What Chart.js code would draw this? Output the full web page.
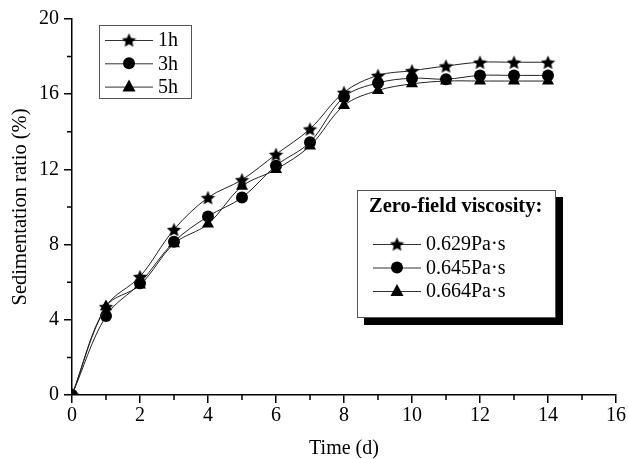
<!DOCTYPE html>
<html>
  <head>
    <title>Sedimentation ratio</title>
    <script src="https://cdn.jsdelivr.net/npm/chart.js"></script>
    <style>
      body {
        margin: 0;
        background: #fff;
      }
      .chart-container {
        width: 628px;
        height: 459px;
      }
    </style>
  </head>
  <body>
    <div class="chart-container">
      <canvas id="graph"></canvas>
    </div>
    <script>
      // time in days
      const days = [0, 1, 2, 3, 4, 5, 6, 7, 8, 9, 10, 11, 12, 13, 14];

      // sedimentation ratio (%) for each settling series
      const ratio1h = [0, 4.7, 6.3, 8.8, 10.5, 11.45, 12.8, 14.15, 16.1, 17.0, 17.25, 17.5, 17.7, 17.7, 17.7];
      const ratio3h = [0, 4.2, 5.95, 8.15, 9.5, 10.5, 12.2, 13.45, 15.85, 16.6, 16.85, 16.8, 17.0, 17.0, 17.0];
      const ratio5h = [0, 4.7, 5.85, 8.05, 9.1, 11.1, 12.0, 13.25, 15.4, 16.2, 16.55, 16.7, 16.7, 16.7, 16.7];

      const seriesNames = ["1h", "3h", "5h"];
      const viscosityNames = ["0.629Pa·s", "0.645Pa·s", "0.664Pa·s"];
      const legendTitle = "Zero-field viscosity:";

      const xTicks = { min: 0, max: 16, major: 2, minor: 1 };
      const yTicks = { min: 0, max: 20, major: 4, minor: 2 };

      const FONT = "'Liberation Serif', 'Times New Roman', serif";

      // filled five-point star, Chart.js only has the asterisk kind
      function makeStar(size) {
        const c = document.createElement("canvas");
        c.width = size;
        c.height = size;
        const g = c.getContext("2d");
        const r = size / 2;
        g.beginPath();
        for (let i = 0; i < 10; i++) {
          const rad = i % 2 === 0 ? r : r * 0.47;
          const a = -Math.PI / 2 + (i * Math.PI) / 5;
          const px = r + rad * Math.cos(a);
          const py = r + 0.8 + rad * Math.sin(a);
          if (i === 0) g.moveTo(px, py);
          else g.lineTo(px, py);
        }
        g.closePath();
        g.fillStyle = "#000";
        g.fill();
        return c;
      }
      const star = makeStar(15);
      const styles = [star, "circle", "triangle"];
      const radii = [7.5, 6, 7];

      function points(values) {
        return values.map((v, i) => ({ x: days[i], y: v }));
      }

      function series(label, values, idx) {
        return {
          label: label,
          data: points(values),
          borderColor: "#222",
          borderWidth: 1,
          backgroundColor: "#000",
          pointStyle: styles[idx],
          pointRadius: radii[idx],
          pointBackgroundColor: "#000",
          pointBorderColor: "#000",
          pointBorderWidth: 0,
          tension: 0.35,
          clip: 0,
          order: idx === 0 ? 0 : 3 - idx,
        };
      }

      function marker(ctx, idx, x, y) {
        if (idx === 0) {
          ctx.drawImage(star, x - 7.5, y - 7.5);
          return;
        }
        ctx.fillStyle = "#000";
        ctx.beginPath();
        if (idx === 1) {
          ctx.arc(x, y, 6, 0, Math.PI * 2);
        } else {
          ctx.moveTo(x, y - 7);
          ctx.lineTo(x + 6.5, y + 5);
          ctx.lineTo(x - 6.5, y + 5);
          ctx.closePath();
        }
        ctx.fill();
      }

      function legendRow(ctx, idx, x0, y, text) {
        ctx.strokeStyle = "#333";
        ctx.lineWidth = 1;
        ctx.beginPath();
        ctx.moveTo(x0, y + 0.5);
        ctx.lineTo(x0 + 48, y + 0.5);
        ctx.stroke();
        marker(ctx, idx, x0 + 24, y);
        ctx.fillStyle = "#000";
        ctx.textBaseline = "middle";
        ctx.textAlign = "left";
        ctx.fillText(text, x0 + 53, y + 1);
      }

      const extras = {
        id: "extras",
        afterDraw(chart) {
          const ctx = chart.ctx;
          const xs = chart.scales.x;
          const ys = chart.scales.y;
          ctx.save();

          // minor ticks
          ctx.strokeStyle = "#000";
          ctx.lineWidth = 1.5;
          ctx.beginPath();
          for (let v = xTicks.min; v <= xTicks.max; v += xTicks.minor) {
            if (v % xTicks.major === 0) continue;
            const px = xs.getPixelForValue(v);
            ctx.moveTo(px, ys.bottom);
            ctx.lineTo(px, ys.bottom + 5);
          }
          for (let v = yTicks.min; v <= yTicks.max; v += yTicks.minor) {
            if (v % yTicks.major === 0) continue;
            const py = ys.getPixelForValue(v);
            ctx.moveTo(xs.left, py);
            ctx.lineTo(xs.left - 5, py);
          }
          ctx.stroke();

          // legend for the curves
          ctx.fillStyle = "#fff";
          ctx.fillRect(99.5, 25.5, 92, 73);
          ctx.strokeStyle = "#555";
          ctx.lineWidth = 1;
          ctx.strokeRect(99.5, 25.5, 92, 73);
          ctx.font = "20px " + FONT;
          seriesNames.forEach((n, i) => legendRow(ctx, i, 105, 40 + i * 23.3, n));

          // viscosity legend with drop shadow
          ctx.fillStyle = "#000";
          ctx.fillRect(364, 197, 199, 128);
          ctx.fillStyle = "#fff";
          ctx.fillRect(357.5, 190.5, 198, 127);
          ctx.strokeStyle = "#555";
          ctx.strokeRect(357.5, 190.5, 198, 127);
          ctx.fillStyle = "#000";
          ctx.font = "bold 20.5px " + FONT;
          ctx.textAlign = "left";
          ctx.textBaseline = "middle";
          ctx.fillText(legendTitle, 369, 207);
          ctx.font = "20px " + FONT;
          viscosityNames.forEach((n, i) => legendRow(ctx, i, 373, 244 + i * 23.5, n));

          ctx.restore();
        },
      };

      const ctx = document.getElementById("graph").getContext("2d");
      new Chart(ctx, {
        type: "line",
        data: {
          datasets: [
            series(seriesNames[0], ratio1h, 0),
            series(seriesNames[1], ratio3h, 1),
            series(seriesNames[2], ratio5h, 2),
          ],
        },
        options: {
          responsive: true,
          maintainAspectRatio: false,
          animation: false,
          layout: { padding: { top: 19, right: 12, left: 0, bottom: 0 } },
          plugins: {
            legend: { display: false },
            tooltip: { enabled: false },
          },
          scales: {
            x: {
              type: "linear",
              min: xTicks.min,
              max: xTicks.max,
              afterFit: (s) => {
                s.height = 64;
              },
              border: { display: true, color: "#000", width: 1.5 },
              grid: {
                drawOnChartArea: false,
                drawTicks: true,
                tickLength: 8,
                color: "#000",
                lineWidth: 1.5,
              },
              ticks: {
                stepSize: xTicks.major,
                color: "#000",
                padding: 1,
                maxRotation: 0,
                font: { family: FONT, size: 20 },
              },
              title: {
                display: true,
                text: "Time (d)",
                color: "#000",
                padding: { top: 0, bottom: 0 },
                font: { family: FONT, size: 20, lineHeight: 1 },
              },
            },
            y: {
              min: yTicks.min,
              max: yTicks.max,
              afterFit: (s) => {
                s.width = 72;
              },
              border: { display: true, color: "#000", width: 1.5 },
              grid: {
                drawOnChartArea: false,
                drawTicks: true,
                tickLength: 8,
                color: "#000",
                lineWidth: 1.5,
              },
              ticks: {
                stepSize: yTicks.major,
                color: "#000",
                padding: 5,
                font: { family: FONT, size: 20 },
              },
              title: {
                display: true,
                text: "Sedimentation ratio (%)",
                color: "#000",
                padding: { top: 10, bottom: 0 },
                font: { family: FONT, size: 20.5, lineHeight: 1 },
              },
            },
          },
        },
        plugins: [extras],
      });
    </script>
  </body>
</html>
